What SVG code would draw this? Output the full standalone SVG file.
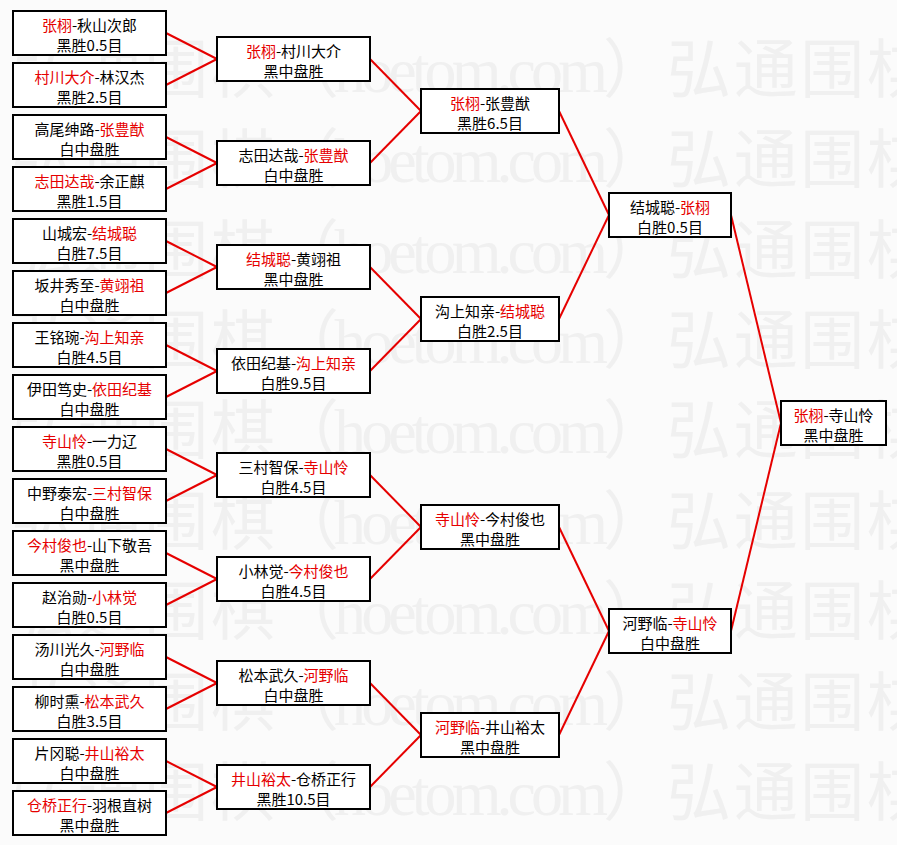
<svg xmlns="http://www.w3.org/2000/svg" width="897" height="845" viewBox="0 0 897 845">
<style>
.bg{fill:#fbfbfb}
.wm text{font-family:"Noto Sans CJK SC",sans-serif;font-size:64px;fill:#f0f0f0}
.wm .lat{font-family:"Liberation Serif","Noto Sans CJK SC",serif}
.node rect{fill:#fff;stroke:#000;stroke-width:2}
.node text{font-family:"Noto Sans CJK SC",sans-serif;font-size:15px;fill:#000;text-anchor:middle}
.node .r{fill:#e60000}
#connectors line{stroke:#e60000;stroke-width:2}
</style>
<rect class="bg" x="0" y="0" width="897" height="845"/>
<g class="wm" id="watermark">
<text x="11" y="92" textLength="264" lengthAdjust="spacing">弘通围棋</text><text class="lat" x="275" y="92" textLength="392" lengthAdjust="spacing">（hoetom.com）</text><text x="667" y="92" textLength="264" lengthAdjust="spacing">弘通围棋</text>
<text x="11" y="182" textLength="264" lengthAdjust="spacing">弘通围棋</text><text class="lat" x="275" y="182" textLength="392" lengthAdjust="spacing">（hoetom.com）</text><text x="667" y="182" textLength="264" lengthAdjust="spacing">弘通围棋</text>
<text x="11" y="273" textLength="264" lengthAdjust="spacing">弘通围棋</text><text class="lat" x="275" y="273" textLength="392" lengthAdjust="spacing">（hoetom.com）</text><text x="667" y="273" textLength="264" lengthAdjust="spacing">弘通围棋</text>
<text x="11" y="363" textLength="264" lengthAdjust="spacing">弘通围棋</text><text class="lat" x="275" y="363" textLength="392" lengthAdjust="spacing">（hoetom.com）</text><text x="667" y="363" textLength="264" lengthAdjust="spacing">弘通围棋</text>
<text x="11" y="453" textLength="264" lengthAdjust="spacing">弘通围棋</text><text class="lat" x="275" y="453" textLength="392" lengthAdjust="spacing">（hoetom.com）</text><text x="667" y="453" textLength="264" lengthAdjust="spacing">弘通围棋</text>
<text x="11" y="544" textLength="264" lengthAdjust="spacing">弘通围棋</text><text class="lat" x="275" y="544" textLength="392" lengthAdjust="spacing">（hoetom.com）</text><text x="667" y="544" textLength="264" lengthAdjust="spacing">弘通围棋</text>
<text x="11" y="634" textLength="264" lengthAdjust="spacing">弘通围棋</text><text class="lat" x="275" y="634" textLength="392" lengthAdjust="spacing">（hoetom.com）</text><text x="667" y="634" textLength="264" lengthAdjust="spacing">弘通围棋</text>
<text x="11" y="725" textLength="264" lengthAdjust="spacing">弘通围棋</text><text class="lat" x="275" y="725" textLength="392" lengthAdjust="spacing">（hoetom.com）</text><text x="667" y="725" textLength="264" lengthAdjust="spacing">弘通围棋</text>
<text x="11" y="815" textLength="264" lengthAdjust="spacing">弘通围棋</text><text class="lat" x="275" y="815" textLength="392" lengthAdjust="spacing">（hoetom.com）</text><text x="667" y="815" textLength="264" lengthAdjust="spacing">弘通围棋</text>
</g>
<g id="connectors">
<line x1="166" y1="33" x2="217" y2="59"/><line x1="166" y1="85" x2="217" y2="59"/>
<line x1="166" y1="137" x2="217" y2="163"/><line x1="166" y1="189" x2="217" y2="163"/>
<line x1="166" y1="241" x2="217" y2="267"/><line x1="166" y1="293" x2="217" y2="267"/>
<line x1="166" y1="345" x2="217" y2="371"/><line x1="166" y1="397" x2="217" y2="371"/>
<line x1="166" y1="449" x2="217" y2="475"/><line x1="166" y1="501" x2="217" y2="475"/>
<line x1="166" y1="553" x2="217" y2="579"/><line x1="166" y1="605" x2="217" y2="579"/>
<line x1="166" y1="657" x2="217" y2="683"/><line x1="166" y1="709" x2="217" y2="683"/>
<line x1="166" y1="761" x2="217" y2="787"/><line x1="166" y1="813" x2="217" y2="787"/>
<line x1="370" y1="59" x2="421" y2="111"/><line x1="370" y1="163" x2="421" y2="111"/>
<line x1="370" y1="267" x2="421" y2="319"/><line x1="370" y1="371" x2="421" y2="319"/>
<line x1="370" y1="475" x2="421" y2="527"/><line x1="370" y1="579" x2="421" y2="527"/>
<line x1="370" y1="683" x2="421" y2="735"/><line x1="370" y1="787" x2="421" y2="735"/>
<line x1="559" y1="111" x2="609" y2="215"/><line x1="559" y1="319" x2="609" y2="215"/>
<line x1="559" y1="527" x2="609" y2="631"/><line x1="559" y1="735" x2="609" y2="631"/>
<line x1="731" y1="215" x2="781" y2="423"/><line x1="731" y1="631" x2="781" y2="423"/>
</g>
<g class="node" id="r1-1"><rect x="13" y="11" width="153" height="44"/><text x="89.5" y="31"><tspan class="r">张栩</tspan>-秋山次郎</text><text x="89.5" y="51">黑胜0.5目</text></g>
<g class="node" id="r1-2"><rect x="13" y="63" width="153" height="44"/><text x="89.5" y="83"><tspan class="r">村川大介</tspan>-林汉杰</text><text x="89.5" y="103">黑胜2.5目</text></g>
<g class="node" id="r1-3"><rect x="13" y="115" width="153" height="44"/><text x="89.5" y="135">高尾绅路-<tspan class="r">张豊猷</tspan></text><text x="89.5" y="155">白中盘胜</text></g>
<g class="node" id="r1-4"><rect x="13" y="167" width="153" height="44"/><text x="89.5" y="187"><tspan class="r">志田达哉</tspan>-余正麒</text><text x="89.5" y="207">黑胜1.5目</text></g>
<g class="node" id="r1-5"><rect x="13" y="219" width="153" height="44"/><text x="89.5" y="239">山城宏-<tspan class="r">结城聪</tspan></text><text x="89.5" y="259">白胜7.5目</text></g>
<g class="node" id="r1-6"><rect x="13" y="271" width="153" height="44"/><text x="89.5" y="291">坂井秀至-<tspan class="r">黄翊祖</tspan></text><text x="89.5" y="311">白中盘胜</text></g>
<g class="node" id="r1-7"><rect x="13" y="323" width="153" height="44"/><text x="89.5" y="343">王铭琬-<tspan class="r">沟上知亲</tspan></text><text x="89.5" y="363">白胜4.5目</text></g>
<g class="node" id="r1-8"><rect x="13" y="375" width="153" height="44"/><text x="89.5" y="395">伊田笃史-<tspan class="r">依田纪基</tspan></text><text x="89.5" y="415">白中盘胜</text></g>
<g class="node" id="r1-9"><rect x="13" y="427" width="153" height="44"/><text x="89.5" y="447"><tspan class="r">寺山怜</tspan>-一力辽</text><text x="89.5" y="467">黑胜0.5目</text></g>
<g class="node" id="r1-10"><rect x="13" y="479" width="153" height="44"/><text x="89.5" y="499">中野泰宏-<tspan class="r">三村智保</tspan></text><text x="89.5" y="519">白中盘胜</text></g>
<g class="node" id="r1-11"><rect x="13" y="531" width="153" height="44"/><text x="89.5" y="551"><tspan class="r">今村俊也</tspan>-山下敬吾</text><text x="89.5" y="571">黑中盘胜</text></g>
<g class="node" id="r1-12"><rect x="13" y="583" width="153" height="44"/><text x="89.5" y="603">赵治勋-<tspan class="r">小林觉</tspan></text><text x="89.5" y="623">白胜0.5目</text></g>
<g class="node" id="r1-13"><rect x="13" y="635" width="153" height="44"/><text x="89.5" y="655">汤川光久-<tspan class="r">河野临</tspan></text><text x="89.5" y="675">白中盘胜</text></g>
<g class="node" id="r1-14"><rect x="13" y="687" width="153" height="44"/><text x="89.5" y="707">柳时熏-<tspan class="r">松本武久</tspan></text><text x="89.5" y="727">白胜3.5目</text></g>
<g class="node" id="r1-15"><rect x="13" y="739" width="153" height="44"/><text x="89.5" y="759">片冈聪-<tspan class="r">井山裕太</tspan></text><text x="89.5" y="779">白中盘胜</text></g>
<g class="node" id="r1-16"><rect x="13" y="791" width="153" height="44"/><text x="89.5" y="811"><tspan class="r">仓桥正行</tspan>-羽根直树</text><text x="89.5" y="831">黑中盘胜</text></g>
<g class="node" id="r2-1"><rect x="217" y="37" width="153" height="44"/><text x="293.5" y="57"><tspan class="r">张栩</tspan>-村川大介</text><text x="293.5" y="77">黑中盘胜</text></g>
<g class="node" id="r2-2"><rect x="217" y="141" width="153" height="44"/><text x="293.5" y="161">志田达哉-<tspan class="r">张豊猷</tspan></text><text x="293.5" y="181">白中盘胜</text></g>
<g class="node" id="r2-3"><rect x="217" y="245" width="153" height="44"/><text x="293.5" y="265"><tspan class="r">结城聪</tspan>-黄翊祖</text><text x="293.5" y="285">黑中盘胜</text></g>
<g class="node" id="r2-4"><rect x="217" y="349" width="153" height="44"/><text x="293.5" y="369">依田纪基-<tspan class="r">沟上知亲</tspan></text><text x="293.5" y="389">白胜9.5目</text></g>
<g class="node" id="r2-5"><rect x="217" y="453" width="153" height="44"/><text x="293.5" y="473">三村智保-<tspan class="r">寺山怜</tspan></text><text x="293.5" y="493">白胜4.5目</text></g>
<g class="node" id="r2-6"><rect x="217" y="557" width="153" height="44"/><text x="293.5" y="577">小林觉-<tspan class="r">今村俊也</tspan></text><text x="293.5" y="597">白胜4.5目</text></g>
<g class="node" id="r2-7"><rect x="217" y="661" width="153" height="44"/><text x="293.5" y="681">松本武久-<tspan class="r">河野临</tspan></text><text x="293.5" y="701">白中盘胜</text></g>
<g class="node" id="r2-8"><rect x="217" y="765" width="153" height="44"/><text x="293.5" y="785"><tspan class="r">井山裕太</tspan>-仓桥正行</text><text x="293.5" y="805">黑胜10.5目</text></g>
<g class="node" id="r3-1"><rect x="421" y="89" width="138" height="44"/><text x="490" y="109"><tspan class="r">张栩</tspan>-张豊猷</text><text x="490" y="129">黑胜6.5目</text></g>
<g class="node" id="r3-2"><rect x="421" y="297" width="138" height="44"/><text x="490" y="317">沟上知亲-<tspan class="r">结城聪</tspan></text><text x="490" y="337">白胜2.5目</text></g>
<g class="node" id="r3-3"><rect x="421" y="505" width="138" height="44"/><text x="490" y="525"><tspan class="r">寺山怜</tspan>-今村俊也</text><text x="490" y="545">黑中盘胜</text></g>
<g class="node" id="r3-4"><rect x="421" y="713" width="138" height="44"/><text x="490" y="733"><tspan class="r">河野临</tspan>-井山裕太</text><text x="490" y="753">黑中盘胜</text></g>
<g class="node" id="r4-1"><rect x="609" y="193" width="122" height="44"/><text x="670" y="213">结城聪-<tspan class="r">张栩</tspan></text><text x="670" y="233">白胜0.5目</text></g>
<g class="node" id="r4-2"><rect x="609" y="609" width="122" height="44"/><text x="670" y="629">河野临-<tspan class="r">寺山怜</tspan></text><text x="670" y="649">白中盘胜</text></g>
<g class="node" id="final"><rect x="781" y="401" width="105" height="44"/><text x="833.5" y="421"><tspan class="r">张栩</tspan>-寺山怜</text><text x="833.5" y="441">黑中盘胜</text></g>
</svg>
